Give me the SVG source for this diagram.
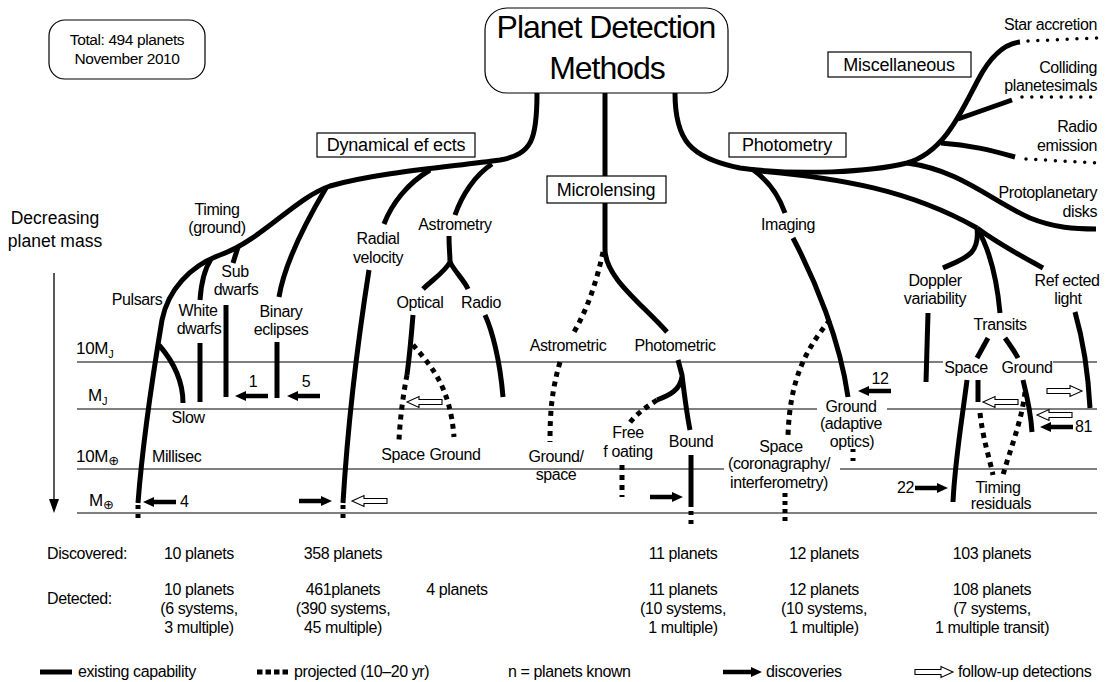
<svg xmlns="http://www.w3.org/2000/svg" width="1109" height="682" viewBox="0 0 1109 682">
<style>
.br{fill:none;stroke:#000;stroke-width:5}
.dt{fill:none;stroke:#000;stroke-width:5;stroke-dasharray:5 5}
.md{fill:none;stroke:#000;stroke-width:3.5;stroke-linecap:round;stroke-dasharray:0 9.8}
.ml{stroke:#555;stroke-width:1.3;fill:none}
text{font-family:"Liberation Sans",Arial,sans-serif;font-size:16px;letter-spacing:-0.4px;fill:#000}
.c{text-anchor:middle}
.e{text-anchor:end}
.box{fill:#fff;stroke:#000;stroke-width:1.2}
.bt{font-size:18px;letter-spacing:-0.2px}
.sym{font-family:"DejaVu Sans",sans-serif;font-size:13px;letter-spacing:0}
</style>
<defs>
<path id="fa" d="M0,0 L-11,-5 L-11,-2.2 L-33,-2.2 L-33,2.2 L-11,2.2 L-11,5 Z" fill="#000"/>
<path id="oa" d="M0,0 L-12,-5.5 L-12,-2.5 L-35,-2.5 L-35,2.5 L-12,2.5 L-12,5.5 Z" fill="#fff" stroke="#000" stroke-width="1.1"/>
</defs>
<rect width="1109" height="682" fill="#fff"/>

<g id="mass-axis">
<path class="ml" d="M77,362 H943 M1053,362 H1097"/>
<path class="ml" d="M77,409 H817 M887,409 H1097"/>
<path class="ml" d="M77,469 H724 M840,469 H1097" stroke="#222"/>
<path class="ml" d="M77,513 H1097"/>
<path d="M54,273 V500" stroke="#000" stroke-width="1.3"/>
<path d="M54,513 L49,499 L59,499 Z" fill="#000"/>
<text x="55" y="224" class="c" style="font-size:17.5px;letter-spacing:0">Decreasing</text>
<text x="55" y="247" class="c" style="font-size:17.5px;letter-spacing:0">planet mass</text>
<text x="76" y="354" style="font-size:17px;letter-spacing:-0.3px">10M<tspan font-size="11" dy="4">J</tspan></text>
<text x="88" y="401" style="font-size:17px;letter-spacing:-0.3px">M<tspan font-size="11" dy="4">J</tspan></text>
<text x="76" y="462" style="font-size:17px;letter-spacing:-0.3px">10M<tspan class="sym" dy="3">⊕</tspan></text>
<text x="89" y="506" style="font-size:17px;letter-spacing:-0.3px">M<tspan class="sym" dy="3">⊕</tspan></text>
</g>

<g id="connectors">
<!-- Dynamical effects -->
<path class="br" d="M537,93 C537,140 532,154 500,160 C450,167 380,172 330,186 C295,198 262,240 220,255 C190,266 168,290 162,320 C152,380 142,450 138,503"/>
<path class="dt" d="M138,505 L138,519" style="stroke-dasharray:4 5"/>
<path class="br" d="M159,345 C172,360 183,380 183,403"/>
<path class="br" d="M211,259 C204,270 201,285 200,300"/>
<path class="br" d="M200,343 L200,402"/>
<path class="br" d="M238,247 L233,263"/>
<path class="br" d="M226,305 L226,397"/>
<path class="br" d="M326,188 C310,215 285,260 279,297"/>
<path class="br" d="M277,342 L277,398"/>
<path class="br" d="M430,170 C408,183 392,203 384,224"/>
<path class="br" d="M369,270 C358,340 348,420 343,503"/>
<path class="dt" d="M343,505 L343,519" style="stroke-dasharray:4 5"/>
<path class="br" d="M492,164 C475,175 462,195 455,215"/>
<path class="br" d="M449,236 C449,248 450,255 450,262 C445,272 432,280 423,289"/>
<path class="br" d="M450,262 C455,272 464,280 468,289"/>
<path class="br" d="M413,315 C411,340 409,360 407,375"/>
<path class="dt" d="M407,375 C403,395 400,420 399,440"/>
<path class="dt" d="M413,345 C430,365 450,385 454,437"/>
<path class="br" d="M485,315 C492,330 500,360 503,397"/>
<!-- Microlensing -->
<path class="br" d="M605,93 L605,250 C606,278 640,302 667,332"/>
<path class="dt" d="M603,252 C597,280 588,308 574,332"/>
<path class="dt" d="M560,362 C552,390 550,410 550,442"/>
<path class="br" d="M678,360 L682,375 C685,400 688,420 690,430"/>
<path class="br" d="M682,377 C680,390 670,395 657,400"/>
<path class="dt" d="M657,400 C645,408 635,415 628,425"/>
<path class="dt" d="M622,465 L622,497"/>
<path class="br" d="M691,455 L691,507"/>
<path class="dt" d="M691,511 L691,524" style="stroke-dasharray:4 5"/>
<!-- Photometry and miscellaneous -->
<path class="br" d="M675,93 C675,140 690,158 740,168 C800,176 870,172 907,163 C945,152 962,110 978,80 C990,57 1003,44 1020,42"/>
<path class="md" d="M1028,41 L1097,38"/>
<path class="br" d="M958,119 L1012,100"/>
<path class="md" d="M1022,97 L1097,97"/>
<path class="br" d="M941,143 C970,145 990,150 1015,157"/>
<path class="md" d="M1026,159 L1097,163"/>
<path class="br" d="M907,163 C960,170 990,200 1030,218 C1055,228 1075,229 1096,229"/>
<path class="br" d="M752,169 C768,180 779,196 785,213"/>
<path class="br" d="M793,238 C815,280 840,340 848,397"/>
<path class="dt" d="M830,320 C805,350 790,380 788,435"/>
<path class="dt" d="M853,449 L853,464" style="stroke-dasharray:3 6"/>
<path class="dt" d="M785,493 L785,523" style="stroke-dasharray:4 4"/>
<path class="br" d="M760,171 C840,178 910,190 977,228"/>
<path class="br" d="M977,228 C980,255 965,258 943,268"/>
<path class="br" d="M977,228 C990,250 997,280 1000,313"/>
<path class="br" d="M977,228 C1000,245 1025,258 1043,268"/>
<path class="br" d="M928,313 L926,382"/>
<path class="br" d="M1075,312 C1083,340 1088,370 1090,408"/>
<path class="br" d="M988,338 L977,358"/>
<path class="br" d="M1005,338 C1010,345 1015,352 1018,358"/>
<path class="br" d="M967,380 C962,420 955,460 953,502"/>
<path class="br" d="M978,380 L978,402"/>
<path class="dt" d="M980,413 C983,440 990,460 993,475"/>
<path class="br" d="M1023,380 C1028,400 1031,415 1032,432"/>
<path class="dt" d="M1025,392 C1022,420 1010,450 1003,475"/>
</g>

<g id="arrows">
<use href="#fa" transform="translate(235,396) rotate(180)"/>
<use href="#fa" transform="translate(287,396) rotate(180)"/>
<use href="#fa" transform="translate(143,502) rotate(180)"/>
<use href="#fa" transform="translate(332,501)"/>
<use href="#fa" transform="translate(683,497)"/>
<use href="#fa" transform="translate(858,391) rotate(180)"/>
<use href="#fa" transform="translate(1040,427) rotate(180)"/>
<use href="#fa" transform="translate(948,488)"/>
<use href="#oa" transform="translate(407,402) rotate(180)"/>
<use href="#oa" transform="translate(352,501) rotate(180)"/>
<use href="#oa" transform="translate(983,402) rotate(180)"/>
<use href="#oa" transform="translate(1082,391)"/>
<use href="#oa" transform="translate(1037,415) rotate(180)"/>
<text x="253" y="387" class="c">1</text>
<text x="306" y="387" class="c">5</text>
<text x="180" y="507">4</text>
<text x="880" y="384" class="c">12</text>
<text x="1075" y="432">81</text>
<text x="914" y="493" class="e">22</text>
</g>

<g id="title">
<rect class="box" x="485" y="8" width="243" height="85" rx="22"/>
<text x="606" y="38" class="c" style="font-size:32px;letter-spacing:-1px">Planet Detection</text>
<text x="607" y="79" class="c" style="font-size:32px;letter-spacing:-1px">Methods</text>
</g>
<g id="total">
<rect class="box" x="49" y="20" width="156" height="59" rx="16"/>
<text x="127" y="45" class="c" style="font-size:15.5px">Total: 494 planets</text>
<text x="127" y="64" class="c" style="font-size:15.5px">November 2010</text>
</g>
<g id="dynamical">
<rect class="box" x="317" y="133" width="158" height="24"/>
<text x="396" y="151" class="c bt">Dynamical ef ects</text>
</g>
<g id="microlensing">
<rect class="box" x="547" y="176" width="119" height="27"/>
<text x="606" y="196" class="c bt">Microlensing</text>
</g>
<g id="photometry">
<rect class="box" x="729" y="133" width="117" height="24"/>
<text x="787" y="151" class="c bt">Photometry</text>
</g>
<g id="miscellaneous">
<rect class="box" x="828" y="52" width="143" height="25"/>
<text x="899" y="71" class="c bt">Miscellaneous</text>
</g>

<g id="labels-dynamical">
<text x="217" y="215" class="c">Timing</text>
<text x="217" y="233" class="c">(ground)</text>
<text x="137" y="305" class="c">Pulsars</text>
<text x="198" y="316" class="c">White</text>
<text x="199" y="334" class="c">dwarfs</text>
<text x="235" y="277" class="c">Sub</text>
<text x="236" y="295" class="c">dwarfs</text>
<text x="281" y="317" class="c">Binary</text>
<text x="281" y="335" class="c">eclipses</text>
<text x="188" y="423" class="c">Slow</text>
<text x="152" y="462">Millisec</text>
<text x="378" y="244" class="c">Radial</text>
<text x="378" y="263" class="c">velocity</text>
<text x="455" y="230" class="c">Astrometry</text>
<text x="420" y="308" class="c">Optical</text>
<text x="481" y="308" class="c">Radio</text>
<text x="403" y="460" class="c">Space</text>
<text x="455" y="460" class="c">Ground</text>
</g>
<g id="labels-microlensing">
<text x="568" y="351" class="c">Astrometric</text>
<text x="675" y="351" class="c">Photometric</text>
<text x="556" y="462" class="c">Ground/</text>
<text x="556" y="480" class="c">space</text>
<text x="628" y="438" class="c">Free</text>
<text x="628" y="457" class="c">f oating</text>
<text x="691" y="447" class="c">Bound</text>
</g>
<g id="labels-photometry">
<text x="788" y="230" class="c">Imaging</text>
<text x="851" y="412" class="c">Ground</text>
<text x="851" y="429" class="c">(adaptive</text>
<text x="852" y="447" class="c">optics)</text>
<text x="781" y="452" class="c">Space</text>
<text x="779" y="469" class="c">(coronagraphy/</text>
<text x="779" y="488" class="c">interferometry)</text>
<text x="935" y="286" class="c">Doppler</text>
<text x="935" y="304" class="c">variability</text>
<text x="1067" y="286" class="c">Ref ected</text>
<text x="1068" y="304" class="c">light</text>
<text x="1000" y="330" class="c">Transits</text>
<text x="966" y="373" class="c">Space</text>
<text x="1027" y="373" class="c">Ground</text>
<text x="998" y="493" class="c">Timing</text>
<text x="1001" y="509" class="c">residuals</text>
</g>
<g id="labels-misc">
<text x="1097" y="30" class="e">Star accretion</text>
<text x="1097" y="73" class="e">Colliding</text>
<text x="1097" y="91" class="e">planetesimals</text>
<text x="1097" y="132" class="e">Radio</text>
<text x="1097" y="151" class="e">emission</text>
<text x="1097" y="198" class="e">Protoplanetary</text>
<text x="1097" y="217" class="e">disks</text>
</g>

<g id="counts">
<text x="47" y="559">Discovered:</text>
<text x="47" y="604">Detected:</text>
<text x="199" y="559" class="c">10 planets</text>
<text x="199" y="595" class="c">10 planets</text>
<text x="199" y="614" class="c">(6 systems,</text>
<text x="199" y="633" class="c">3 multiple)</text>
<text x="343" y="559" class="c">358 planets</text>
<text x="343" y="595" class="c">461planets</text>
<text x="343" y="614" class="c">(390 systems,</text>
<text x="343" y="633" class="c">45 multiple)</text>
<text x="457" y="595" class="c">4 planets</text>
<text x="683" y="559" class="c">11 planets</text>
<text x="683" y="595" class="c">11 planets</text>
<text x="683" y="614" class="c">(10 systems,</text>
<text x="683" y="633" class="c">1 multiple)</text>
<text x="824" y="559" class="c">12 planets</text>
<text x="824" y="595" class="c">12 planets</text>
<text x="824" y="614" class="c">(10 systems,</text>
<text x="824" y="633" class="c">1 multiple)</text>
<text x="992" y="559" class="c">103 planets</text>
<text x="992" y="595" class="c">108 planets</text>
<text x="992" y="614" class="c">(7 systems,</text>
<text x="992" y="633" class="c">1 multiple transit)</text>
</g>

<g id="legend">
<path class="br" d="M40,672 L72,672"/>
<text x="78" y="677">existing capability</text>
<path class="dt" d="M257,672 L291,672" style="stroke-dasharray:5.5 3"/>
<text x="294" y="677">projected (10–20 yr)</text>
<text x="508" y="677">n = planets known</text>
<path d="M762,672 L751,667 L751,669.8 L723,669.8 L723,674.2 L751,674.2 L751,677 Z" fill="#000"/>
<text x="766" y="677">discoveries</text>
<path d="M953,672 L941,666.5 L941,669.5 L915,669.5 L915,674.5 L941,674.5 L941,677.5 Z" fill="#fff" stroke="#000" stroke-width="1.1"/>
<text x="958" y="677">follow-up detections</text>
</g>
</svg>
